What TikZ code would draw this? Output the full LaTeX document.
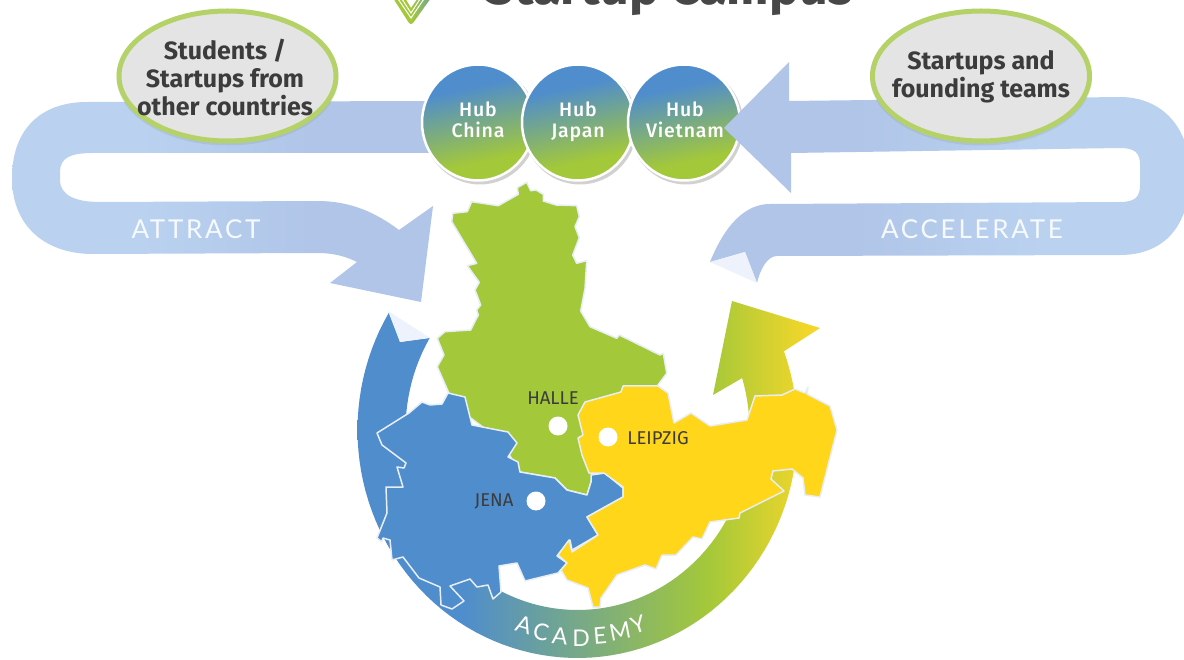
\documentclass[tikz,border=0pt]{standalone}
\usepackage{fontspec}
\setmainfont{Fira Sans}
\newfontfamily\hubfont[LetterSpace=4]{Fira Sans Medium}
\newfontfamily\bandfont[LetterSpace=10.5]{Lato}
\newfontfamily\arcfont{Lato}
\definecolor{hubblue}{HTML}{4F8DCD}
\definecolor{hubgreen}{HTML}{A3C83A}
\definecolor{sunny}{HTML}{FFD61A}
\definecolor{ringyellow}{HTML}{F2D62A}
\definecolor{paleedge}{HTML}{E8EEF6}
\definecolor{notch}{HTML}{EEF2FC}
\definecolor{bandL}{HTML}{B0C5E8}
\definecolor{bandR}{HTML}{BAD2F0}
\definecolor{ellfill}{HTML}{E4E4E4}
\definecolor{ellline}{HTML}{B5D268}
\definecolor{inkdark}{HTML}{3C3C3C}
\pgfdeclareverticalshading{hubshade}{100bp}{color(0bp)=(hubgreen); color(33bp)=(hubgreen); color(66bp)=(hubblue); color(100bp)=(hubblue)}
\pgfdeclarehorizontalshading{ringshade}{100bp}{color(0bp)=(hubblue); color(36.4bp)=(hubblue); color(62.8bp)=(hubgreen); color(73.5bp)=(ringyellow); color(100bp)=(ringyellow)}
\pgfdeclarehorizontalshading{attractshade}{100bp}{color(0bp)=(bandR); color(40bp)=(bandR); color(60bp)=(bandL); color(100bp)=(bandL)}
\pgfdeclarehorizontalshading{accelshade}{100bp}{color(0bp)=(bandL); color(40bp)=(bandL); color(60bp)=(bandR); color(100bp)=(bandR)}
\pgfdeclarehorizontalshading{logoshade}{100bp}{color(0bp)=(hubgreen); color(50bp)=(hubgreen); color(75bp)=(hubblue!60!hubgreen); color(100bp)=(hubblue!60!hubgreen)}
\usetikzlibrary{shapes.geometric}
\tikzset{
  region/.style={draw=paleedge,line width=1.5pt,line join=round},
  cityspot/.style={circle,fill=white,inner sep=0pt,minimum size=19pt},
  citytext/.style={font=\fontsize{18.5}{20}\selectfont,text=inkdark,inner sep=0pt},
  bandtext/.style={font=\bandfont\fontsize{26}{28}\selectfont,text=white!88!bandR,inner sep=0pt},
  arcletter/.style={font=\arcfont\fontsize{23}{24}\selectfont,text=white,inner sep=0pt},
  hubdisc/.style={ellipse,draw=white,line width=2.5pt,shading=hubshade,shading angle=12,minimum width=112pt,minimum height=116pt,inner sep=0pt},
  hubtext/.style={font=\hubfont\fontsize{19.5}{21}\selectfont,text=white,align=center,inner sep=0pt},
  hubshadow/.style={ellipse,fill=black,opacity=0.18,minimum width=115pt,minimum height=119pt,inner sep=0pt},
  talk/.style={ellipse,draw=ellline,fill=ellfill,line width=5pt,minimum width=217pt,minimum height=130pt,inner sep=0pt},
  talktext/.style={font=\bfseries\fontsize{25}{28}\selectfont,text=inkdark,align=center,inner sep=0pt},
  talkshadow/.style={ellipse,fill=black,opacity=0.06,minimum width=222pt,minimum height=135pt,inner sep=0pt},
}
\begin{document}
\begin{tikzpicture}[x=1pt,y=-1pt]
\useasboundingbox (0,0) rectangle (1184,660);
\clip (0,0) rectangle (1184,660);
\fill[white] (0,0) rectangle (1184,660);

% logo and clipped title
\shade[shading=logoshade] (393,-2) -- (405,-2) -- (411,8) -- (418,-2) -- (431,-2) -- (413,23) .. controls (412,24.5) and (410,24.5) .. (409,23) -- cycle;
\draw[white,line width=1pt] (396,-4) -- (411,18) -- (426,-4);
\draw[white,line width=1pt] (400,-4) -- (411,13) -- (422,-4);
\node[anchor=base,font=\bfseries\fontsize{50.3}{56}\selectfont,text=black!72,inner sep=0pt] (brand) at (669,5) {Startup Campus};

% attract band
\path[shading=attractshade] (440,101) -- (87,102) .. controls (40,102) and (12,130) .. (12,178) .. controls (12,226) and (45,254) .. (93,254) -- (317,253) .. controls (335,253) and (347,257) .. (357,262) -- (330,283) -- (421,302) -- (433,206) -- (399,230) .. controls (375,212) and (350,201) .. (317,201) -- (100,202) .. controls (75,202) and (60,195) .. (60,180) -- (60,172) .. controls (60,158) and (70,153) .. (93,153) -- (440,153) -- cycle;
\node[bandtext] (attract) at (196,229) {ATTRACT};

% hubs
\node[hubshadow] (s1) at (480,125) {};
\node[hubdisc] (china) at (478,122.5) {};
\node[hubtext] (chinat) at (478,122.5) {Hub\\China\strut};
\node[hubshadow] (s2) at (580,125) {};
\node[hubdisc] (japan) at (578,122.5) {};
\node[hubtext] (japant) at (578,122.5) {Hub\\Japan\strut};
\node[hubshadow] (s3) at (686,125) {};
\node[hubdisc] (vietnam) at (684,122.5) {};
\node[hubtext] (vietnamt) at (685,122.5) {Hub\\Vietnam\strut};

% accelerate band
\path[shading=accelshade] (724,128) -- (789,62) -- (789,101) -- (1120,97) .. controls (1160,97) and (1190,125) .. (1190,175) .. controls (1190,225) and (1165,255) .. (1120,255) -- (777,256) .. controls (767,256) and (760,270) .. (757,283) -- (745,252) -- (710,262) .. controls (725,225) and (745,204) .. (770,204) -- (1120,202) .. controls (1135,202) and (1140,197) .. (1140,185) -- (1140,165) .. controls (1140,153) and (1135,148) .. (1120,148) -- (791,153) -- (791,193) -- cycle;
\fill[notch] (710,262) -- (745,252) -- (757,283) -- cycle;
\node[bandtext] (accelerate) at (972,229) {ACCELERATE};

% talk ellipses
\node[talkshadow] (e1s) at (227.5,78) {};
\node[talk] (students) at (227.5,76) {};
\node[talktext] (studentst) at (225,78) {Students /\\Startups from\\other countries};
\node[talkshadow] (e2s) at (981,78) {};
\node[talk] (founders) at (981,76) {};
\node[talktext] (founderst) at (981,76.5) {Startups and\\founding teams};

% academy ring
\path[shading=ringshade] plot[domain=211.2:-20.2,samples=90] ({577.5+220*cos(\x)},{430+228*sin(\x)}) -- (820,328) -- (732,301) -- (713,395) -- (744,377) -- plot[domain=-16.9:210.8,samples=90] ({577.5+172*cos(\x)},{430+180*sin(\x)}) -- (400,342) -- cycle;
\fill[notch] (388,311) -- (430,338) -- (400,342) -- cycle;

% regions
\path[region,fill=hubgreen] (526.7,182.3) -- (530.7,190.7) -- (536,190) -- (543.3,194.3) -- (543.3,201) -- (556,205) -- (576.7,205.7) -- (579.3,216.7) -- (575,226.7) -- (579.3,237.7) -- (572.7,255) -- (576.7,263.3) -- (586.7,260.7) -- (585,288.3) -- (580.7,311) -- (590,326.7) -- (616.7,338.3) -- (619.3,335) -- (660,355) -- (663.3,353.3) -- (666.7,373.3) -- (658,385) -- (640,400) -- (600,450) -- (591,482) -- (587,495) -- (567,490) -- (555,478) -- (520,472) -- (500,440) -- (460,410) -- (448.3,391.7) -- (437.3,366.7) -- (444,355) -- (437.3,338.3) -- (445,331.7) -- (470.7,330) -- (478.3,315) -- (476.7,310) -- (480.7,305) -- (475,290) -- (479.3,282.3) -- (467.3,265.7) -- (476.7,263.3) -- (451.7,221.7) -- (452.7,213.3) -- (467.3,211.7) -- (471.7,201.7) -- (498.3,205.7) -- (518.3,194.3) -- (517.3,187.7) -- cycle;
\path[region,fill=hubblue] (591,475) -- (605,473) -- (623,488) -- (623,497) -- (587,517) -- (598,535) -- (572,550) -- (570,540) -- (557,556) -- (567,563) -- (558,573) -- (525,581) -- (517,563) -- (499,566) -- (501,592) -- (493,599) -- (488,585) -- (477,587) -- (470,579) -- (450,586) -- (464,601) -- (452,609) -- (441,605) -- (440,587) -- (419,578) -- (403,557) -- (392,560) -- (390,540) -- (383,538) -- (381.7,541.7) -- (377,538) -- (387,513) -- (386,487) -- (403,487) -- (397,467) -- (404,468) -- (406,463) -- (382,445) -- (377,433) -- (409,413) -- (422,402) -- (430,405) -- (442,404) -- (448,393) -- (465,397) -- (472,425) -- (508,432) -- (517,443) -- (508,457) -- (518,462) -- (520,472) -- (555,478) -- (567,490) -- (587,495) -- (591,482) -- cycle;
\path[region,fill=sunny] (623,386) -- (658,386) -- (668,393) -- (674,423) -- (691,413) -- (710,426) -- (747,420) -- (755,396) -- (782,395) -- (795,389) -- (805,393) -- (808,387) -- (807,394) -- (830,406) -- (837,430) -- (820,497) -- (805,495) -- (803,478) -- (792,469) -- (773,471) -- (771,479) -- (784,491) -- (740,513) -- (739,518) -- (710,522) -- (702,539) -- (693,537) -- (676,555) -- (662,555) -- (656,569) -- (645,565) -- (617,575) -- (601,598) -- (600,607) -- (593,607) -- (588,588) -- (567,580) -- (561,570) -- (567,563) -- (558,555) -- (569,540) -- (572,552) -- (598,535) -- (587,517) -- (623,497) -- (623,487) -- (604,473) -- (589,473) -- (582,455) -- (578,438) -- (583,435) -- (578,415) -- (585,402) -- (621,392) -- cycle;

% cities
\node[cityspot] (halle) at (558,426) {};
\node[cityspot] (leipzig) at (608,437) {};
\node[cityspot] (jena) at (536,501) {};
\node[citytext] (hallet) at (553,398) {HALLE};
\node[citytext] (leipzigt) at (658,438) {LEIPZIG};
\node[citytext] (jenat) at (494,501) {JENA};

% academy lettering
\node[arcletter,rotate=-17] (l1) at (524,625) {A};
\node[arcletter,rotate=-12] (l2) at (541,632) {C};
\node[arcletter,rotate=-6] (l3) at (560,636) {A};
\node[arcletter,rotate=0] (l4) at (581,638) {D};
\node[arcletter,rotate=5] (l5) at (600,636) {E};
\node[arcletter,rotate=11] (l6) at (620,631) {M};
\node[arcletter,rotate=17] (l7) at (638,625) {Y};
\end{tikzpicture}
\end{document}
